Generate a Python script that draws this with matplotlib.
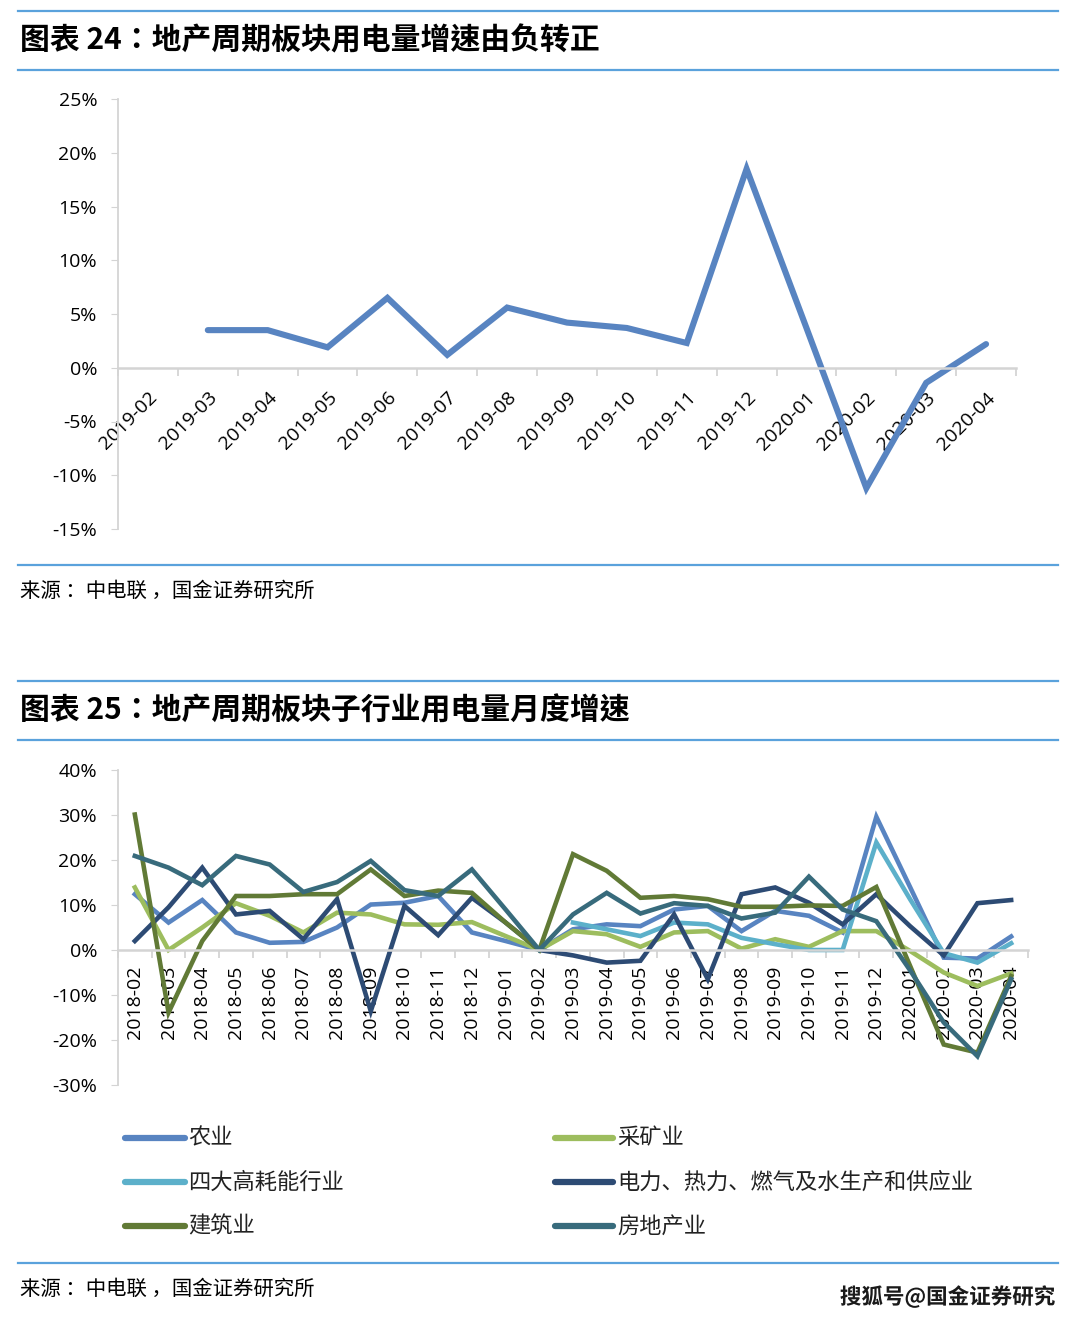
#!/usr/bin/env python3
"""Two Excel-style line charts: property-cycle electricity consumption growth."""

import numpy as np
import matplotlib

matplotlib.use("Agg")

import matplotlib.pyplot as plt
import matplotlib.patheffects as pe
from matplotlib.lines import Line2D

plt.rcParams["font.family"] = ["Noto Sans CJK SC", "DejaVu Sans"]

W, H = 1080, 1320

# ---- chart 24 data ----
top_months = ["2019-02", "2019-03", "2019-04", "2019-05", "2019-06", "2019-07",
              "2019-08", "2019-09", "2019-10", "2019-11", "2019-12", "2020-01",
              "2020-02", "2020-03", "2020-04"]
top_growth = [np.nan, 3.5, 3.5, 1.9, 6.5, 1.2, 5.6, 4.2, 3.7, 2.3, 18.5, 3.7,
              -11.2, -1.4, 2.2]
top_yticks = [-15, -10, -5, 0, 5, 10, 15, 20, 25]

# ---- chart 25 data ----
sub_months = ["2018-02", "2018-03", "2018-04", "2018-05", "2018-06", "2018-07",
              "2018-08", "2018-09", "2018-10", "2018-11", "2018-12", "2019-01",
              "2019-02", "2019-03", "2019-04", "2019-05", "2019-06", "2019-07",
              "2019-08", "2019-09", "2019-10", "2019-11", "2019-12", "2020-01",
              "2020-02", "2020-03", "2020-04"]
agri = [12.4, 6.1, 11.1, 3.9, 1.6, 1.8, 5.0, 10.1, 10.5, 12.0, 3.9, 2.0, 0.0,
        4.6, 5.7, 5.3, 9.0, 9.8, 4.2, 8.7, 7.6, 3.9, 29.6, 14.0, -1.7, -1.9, 3.0]
mining = [13.9, 0.0, 5.0, 10.4, 7.6, 3.9, 8.3, 7.9, 5.7, 5.6, 6.2, 3.1, 0.0,
          4.2, 3.5, 0.7, 3.9, 4.2, 0.3, 2.4, 0.7, 4.2, 4.2, -0.2, -5.0, -8.0, -5.2]
energy_intensive = [np.nan] * 13 + [6.1, 4.6, 3.1, 6.1, 5.7, 2.7, 1.3, 0.0, 0.0,
                                    23.9, 11.3, -0.7, -2.8, 1.5]
utilities = [2.0, 9.5, 18.3, 7.9, 8.7, 2.4, 11.3, -13.6, 9.8, 3.3, 11.6, 6.1, 0.0,
             -1.2, -2.8, -2.4, 7.9, -6.5, 12.4, 13.9, 10.5, 5.7, 12.4, 5.3, -1.2,
             10.4, 11.1]
construction = [30.1, -13.9, 2.0, 12.0, 12.0, 12.4, 12.4, 17.9, 12.0, 13.2, 12.7,
                6.1, 0.0, 21.3, 17.6, 11.6, 12.0, 11.3, 9.6, 9.6, 9.9, 9.8, 14.0,
                -3.5, -21.0, -22.8, -5.8]
real_estate = [20.9, 18.3, 14.4, 20.9, 19.0, 12.9, 15.1, 19.8, 13.3, 12.0, 17.9,
               9.0, 0.0, 7.9, 12.7, 8.1, 10.4, 9.8, 7.0, 8.3, 16.3, 9.0, 6.4,
               -4.5, -16.1, -23.6, -6.5]
sub_yticks = [-30, -20, -10, 0, 10, 20, 30, 40]

series_names = ["农业", "采矿业", "四大高耗能行业", "电力、热力、燃气及水生产和供应业",
                "建筑业", "房地产业"]
series_values = [agri, mining, energy_intensive, utilities, construction, real_estate]
series_colors = ["#5884c1", "#9dbd5e", "#5cb0ca", "#2d4b74", "#617a36", "#386b7c"]

SEP_BLUE = "#5aa2dc"
AXIS_GRAY = "#d4d4d4"
TICK_FONT = ["Open Sans", "DejaVu Sans"]
HEAD_FONT = ["Noto Sans CJK TC", "DejaVu Sans"]  # centred full-width colon
SOURCE = "来源 ：中电联 ，国金证券研究所"


def fx(px):
    return px / W


def fy(py):
    return 1 - py / H


def hline(fig, y):
    fig.add_artist(Line2D([fx(18), fx(1058)], [fy(y), fy(y)], color=SEP_BLUE, lw=1.6))


def style_axes(ax, n, yticks, ylim):
    ax.set_xlim(-0.5, n - 0.5)
    ax.set_ylim(*ylim)
    for side in ("top", "right"):
        ax.spines[side].set_visible(False)
    ax.spines["left"].set_color(AXIS_GRAY)
    ax.spines["left"].set_linewidth(1.3)
    ax.spines["bottom"].set_position(("data", 0))
    ax.spines["bottom"].set_color(AXIS_GRAY)
    ax.spines["bottom"].set_linewidth(1.8)
    ax.set_yticks(yticks)
    ax.set_yticklabels([f"{v}%" for v in yticks], fontsize=14, family=TICK_FONT)
    ax.tick_params(axis="y", length=5, color=AXIS_GRAY, pad=10)
    ax.set_xticks(np.arange(-0.5, n, 1.0), minor=True)
    ax.tick_params(axis="x", which="minor", length=6, color=AXIS_GRAY, width=1.3)
    ax.patch.set_alpha(0)


fig = plt.figure(figsize=(W / 100, H / 100), dpi=100)

# ---------------- chart 24 ----------------
hline(fig, 11)
fig.text(fx(20), fy(40), "图表 24：地产周期板块用电量增速由负转正", fontsize=21.5,
         fontweight="bold", va="center", ha="left", family=HEAD_FONT)
hline(fig, 70)

ax1 = fig.add_axes([fx(118), fy(529), fx(1016 - 118), (529 - 99) / H])
x1 = np.arange(len(top_months))
ax1.plot(x1, top_growth, color="#5884c1", lw=4.4, solid_capstyle="round",
         solid_joinstyle="miter")
style_axes(ax1, len(top_months), top_yticks, (-15, 25))
ax1.set_xticks(x1)
ax1.set_xticklabels(top_months, fontsize=14, family=TICK_FONT)
ax1.tick_params(axis="x", which="major", length=0, pad=15)
plt.setp(ax1.get_xticklabels(), rotation=45, ha="right", va="top",
         rotation_mode="anchor")

hline(fig, 565)
fig.text(fx(20), fy(591), SOURCE, fontsize=14.7, va="center")

# ---------------- chart 25 ----------------
hline(fig, 681)
fig.text(fx(20), fy(710), "图表 25：地产周期板块子行业用电量月度增速", fontsize=21.5,
         fontweight="bold", va="center", ha="left", family=HEAD_FONT)
hline(fig, 740)

ax2 = fig.add_axes([fx(118), fy(1085), fx(1028 - 118), (1085 - 770) / H])
x2 = np.arange(len(sub_months))
for name, vals, col in zip(series_names, series_values, series_colors):
    ax2.plot(x2, vals, color=col, lw=3.3, solid_joinstyle="miter", label=name)
style_axes(ax2, len(sub_months), sub_yticks, (-30, 40))
ax2.set_xticks(x2)
ax2.set_xticklabels(sub_months, fontsize=14, family=TICK_FONT)
ax2.tick_params(axis="x", which="major", length=0, pad=11)
plt.setp(ax2.get_xticklabels(), rotation=90, ha="right", va="center",
         rotation_mode="anchor")

# legend: 3 rows x 2 columns, filled row by row
legend_rows = [1138, 1182, 1226]
legend_cols = [(125, 185, 188), (555, 613, 617)]
for i, (name, col) in enumerate(zip(series_names, series_colors)):
    r, c = divmod(i, 2)
    x0, x1e, xt = legend_cols[c]
    y = legend_rows[r]
    fig.add_artist(Line2D([fx(x0), fx(x1e)], [fy(y), fy(y)], color=col, lw=4.5,
                          solid_capstyle="round"))
    fig.text(fx(xt), fy(y), name, fontsize=16, va="center", ha="left",
             color="#222222")

hline(fig, 1263)
fig.text(fx(20), fy(1289), SOURCE, fontsize=14.7, va="center")
fig.text(fx(1055), fy(1297), "搜狐号@国金证券研究", fontsize=15.5, va="center",
         ha="right", color="#1a1a1a", fontweight="bold",
         path_effects=[pe.withStroke(linewidth=2.5, foreground="white")])

fig.savefig("out.png", dpi=100)
plt.close(fig)
